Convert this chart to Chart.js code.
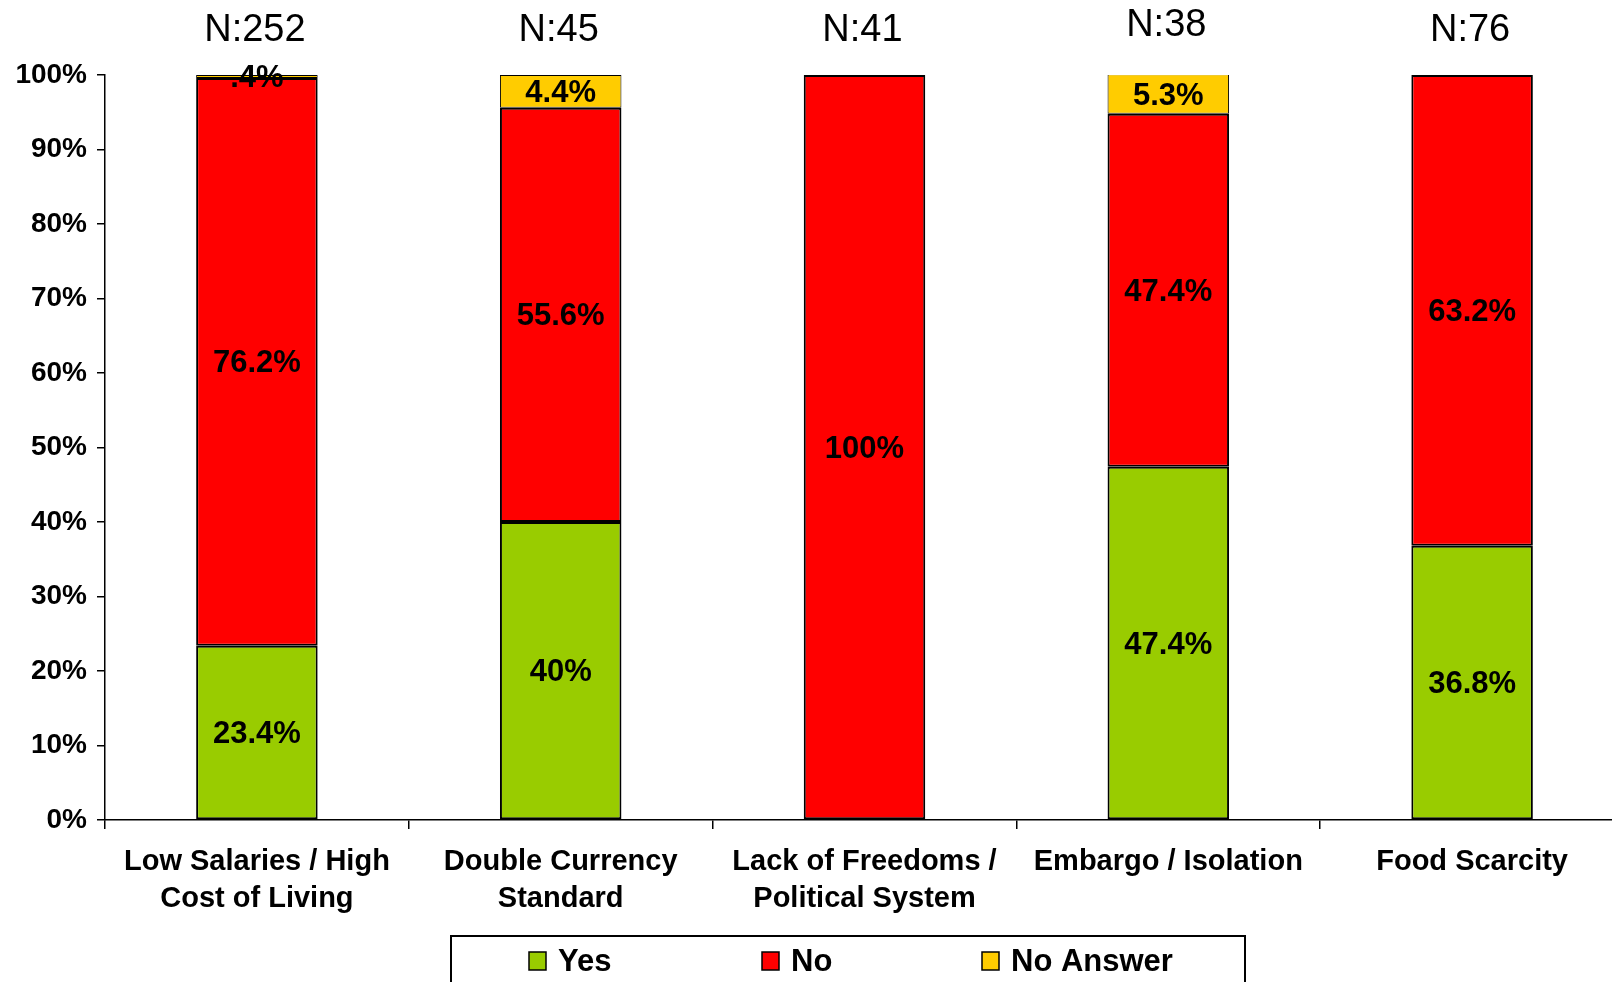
<!DOCTYPE html>
<html>
<head>
<meta charset="utf-8">
<script src="https://cdn.jsdelivr.net/npm/chart.js@4"></script>
<style>
html, body { margin: 0; padding: 0; background: #fff; overflow: hidden; }
#wrap { width: 1624px; height: 982px; }
</style>
</head>
<body>
<div id="wrap"><canvas id="grafico"></canvas></div>
<script>
var categories = [
    ['Low Salaries / High', 'Cost of Living'],
    ['Double Currency', 'Standard'],
    ['Lack of Freedoms /', 'Political System'],
    'Embargo / Isolation',
    'Food Scarcity'
];
var sampleSizes = [252, 45, 41, 38, 76];
var yes = [23.4, 40, 0, 47.4, 36.8];
var no = [76.2, 55.6, 100, 47.4, 63.2];
var noAnswer = [0.4, 4.4, 0, 5.3, 0];
var yTicks = [0, 10, 20, 30, 40, 50, 60, 70, 80, 90, 100];

Chart.defaults.font.family = '"Liberation Sans", Arial, sans-serif';
Chart.defaults.color = '#000';

function pct(v) {
    var s = String(v);
    if (v < 1) s = s.replace(/^0/, '');
    return s + '%';
}

// value labels inside the segments
var segmentLabels = {
    id: 'segmentLabels',
    afterDatasetsDraw: function (chart) {
        var c = chart.ctx;
        c.save();
        c.font = 'bold 31px "Liberation Sans", Arial, sans-serif';
        c.fillStyle = '#000';
        c.textAlign = 'center';
        c.textBaseline = 'middle';
        chart.data.datasets.forEach(function (ds, d) {
            var meta = chart.getDatasetMeta(d);
            meta.data.forEach(function (bar, i) {
                var v = ds.data[i];
                if (!v) return;
                c.fillText(pct(v), bar.x, (bar.y + bar.base) / 2 + 2);
            });
        });
        c.restore();
    }
};

// N counts above the bars
var sampleLabels = {
    id: 'sampleLabels',
    afterDraw: function (chart) {
        var c = chart.ctx;
        var x = chart.scales.x;
        c.save();
        c.font = '38px "Liberation Sans", Arial, sans-serif';
        c.fillStyle = '#000';
        c.textAlign = 'center';
        c.textBaseline = 'middle';
        sampleSizes.forEach(function (n, i) {
            var y = i === 3 ? 26 : 31;
            c.fillText('N:' + n, x.getPixelForValue(i) - 2, y);
        });
        c.restore();
    }
};

// boxed legend at the bottom, like the original
var boxLegend = {
    id: 'boxLegend',
    afterDraw: function (chart) {
        var c = chart.ctx;
        var left = 451, top = 936, w = 794;
        var offs = [78, 311, 531];
        c.save();
        c.lineWidth = 2;
        c.strokeStyle = '#000';
        c.strokeRect(left, top, w, 80);
        c.font = 'bold 31px "Liberation Sans", Arial, sans-serif';
        c.textBaseline = 'middle';
        c.textAlign = 'left';
        chart.data.datasets.forEach(function (ds, i) {
            var bx = left + offs[i];
            var cy = 961;
            c.fillStyle = ds.backgroundColor;
            c.fillRect(bx, cy - 9, 17, 18);
            c.lineWidth = 1.5;
            c.strokeRect(bx, cy - 9, 17, 18);
            c.fillStyle = '#000';
            c.fillText(ds.label, bx + 29, cy + 1);
        });
        c.restore();
    }
};

var ctx = document.getElementById('grafico');
var myChart = new Chart(ctx, {
    type: 'bar',
    data: {
        labels: categories,
        datasets: [{
            label: 'Yes',
            data: yes,
            backgroundColor: '#99CC00',
            borderColor: '#000',
            borderWidth: 2,
            borderSkipped: false
        }, {
            label: 'No',
            data: no,
            backgroundColor: '#FF0000',
            borderColor: '#000',
            borderWidth: 2,
            borderSkipped: false
        }, {
            label: 'No Answer',
            data: noAnswer,
            backgroundColor: '#FFCC00',
            borderColor: '#000',
            borderWidth: 1,
            borderSkipped: false
        }]
    },
    options: {
        responsive: true,
        maintainAspectRatio: false,
        animation: false,
        datasets: {
            bar: { barPercentage: 0.4, categoryPercentage: 1 }
        },
        layout: {
            padding: { top: 75, bottom: 67, left: 0, right: 0 }
        },
        plugins: {
            legend: { display: false },
            tooltip: { enabled: false }
        },
        scales: {
            x: {
                stacked: true,
                afterFit: function (scale) { scale.height = 95; },
                grid: {
                    offset: true,
                    drawOnChartArea: false,
                    drawTicks: true,
                    tickLength: 9,
                    color: '#000',
                    lineWidth: 1.5
                },
                border: { color: '#000', width: 1.5 },
                ticks: {
                    padding: 15,
                    maxRotation: 0,
                    autoSkip: false,
                    font: { size: 29, weight: 'bold', lineHeight: 1.27 }
                }
            },
            y: {
                stacked: true,
                min: 0,
                max: 100,
                afterFit: function (scale) { scale.width = 105; },
                afterBuildTicks: function (scale) {
                    scale.ticks = yTicks.map(function (v) { return { value: v }; });
                },
                grid: {
                    drawOnChartArea: false,
                    drawTicks: true,
                    tickLength: 8,
                    color: '#000',
                    lineWidth: 1.5
                },
                border: { color: '#000', width: 1.5 },
                ticks: {
                    padding: 10,
                    font: { size: 28, weight: 'bold' },
                    callback: function (v) { return v + '%'; }
                }
            }
        }
    },
    plugins: [segmentLabels, sampleLabels, boxLegend]
});
</script>
</body>
</html>
